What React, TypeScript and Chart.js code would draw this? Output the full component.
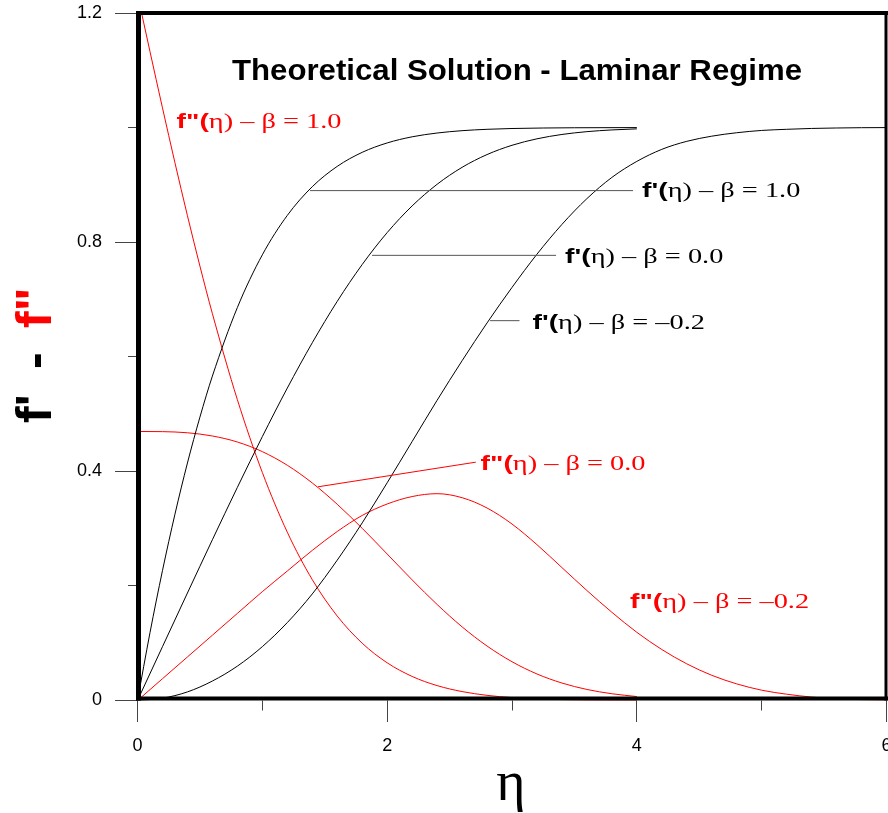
import React, { useEffect, useRef } from 'react';
import { Chart, registerables } from 'chart.js';

Chart.register(...registerables);

// Similarity coordinate eta and velocity / shear profiles of the Falkner-Skan family
// beta = 1.0 (stagnation point flow)
const etaStagnation = [0, 0.1, 0.2, 0.3, 0.4, 0.5, 0.6, 0.8, 1.0, 1.2, 1.4, 1.6, 1.8, 2.0, 2.2, 2.4, 2.6, 2.8, 3.0, 3.5, 4.0];
const fPrimeStagnation = [0, 0.1183, 0.2266, 0.3252, 0.4145, 0.4946, 0.5663, 0.6859, 0.7779, 0.8467, 0.8968, 0.9323, 0.9568, 0.9732, 0.9839, 0.9905, 0.9946, 0.997, 0.9984, 0.9997, 1.0];
const fDoublePrimeStagnation = [1.2326, 1.1328, 1.0345, 0.9386, 0.8463, 0.7583, 0.6752, 0.5251, 0.398, 0.2938, 0.211, 0.1474, 0.1, 0.0658, 0.042, 0.026, 0.0156, 0.009, 0.0051, 0.001, 0.0002];

// beta = 0.0 (flat plate)
const etaFlatPlate = [0, 0.2, 0.4, 0.6, 0.8, 1.0, 1.2, 1.4, 1.6, 1.8, 2.0, 2.2, 2.4, 2.6, 2.8, 3.0, 3.2, 3.4, 3.6, 3.8, 4.0];
const fPrimeFlatPlate = [0, 0.0939, 0.1876, 0.2806, 0.372, 0.4606, 0.5453, 0.6244, 0.6967, 0.761, 0.8167, 0.8633, 0.901, 0.9306, 0.9529, 0.9691, 0.9804, 0.988, 0.9929, 0.9959, 0.9978];
const fDoublePrimeFlatPlate = [0.4696, 0.4693, 0.4673, 0.4617, 0.4512, 0.4344, 0.4106, 0.3797, 0.3425, 0.3005, 0.2557, 0.2106, 0.1676, 0.1286, 0.0951, 0.0677, 0.0463, 0.0305, 0.0193, 0.0118, 0.0069];

// beta = -0.2 (near separation)
const etaSeparation = [0, 0.2, 0.4, 0.6, 0.8, 1.0, 1.2, 1.4, 1.6, 1.8, 2.0, 2.2, 2.4, 2.6, 2.8, 3.0, 3.2, 3.4, 3.6, 3.8, 4.0, 4.2, 4.4, 4.6, 4.8, 5.0, 5.2, 5.4, 5.6, 5.8, 6.0];
const fPrimeSeparation = [0, 0.004, 0.015, 0.034, 0.06, 0.094, 0.136, 0.186, 0.245, 0.31, 0.38, 0.452, 0.524, 0.593, 0.659, 0.721, 0.779, 0.831, 0.876, 0.913, 0.941, 0.962, 0.976, 0.985, 0.991, 0.995, 0.997, 0.9985, 0.9993, 0.9998, 1.0];
const fDoublePrimeSeparation = [0, 0.038, 0.076, 0.114, 0.152, 0.19, 0.226, 0.262, 0.295, 0.323, 0.343, 0.356, 0.361, 0.354, 0.336, 0.308, 0.272, 0.232, 0.192, 0.154, 0.119, 0.089, 0.064, 0.044, 0.029, 0.018, 0.011, 0.006, 0.003, 0.0015, 0.0005];

// Axis ranges and labelled ticks
const xRange = [0, 6];
const yRange = [0, 1.2];
const xMajorTicks = [0, 2, 4, 6];
const xMinorTicks = [1, 3, 5];
const yMajorTicks = [0, 0.4, 0.8, 1.2];
const yMinorTicks = [0.2, 0.6, 1.0];

const chartTitle = 'Theoretical Solution - Laminar Regime';

const BLACK = '#000000';
const RED = '#ff0000';
const LEADER = '#555555';
const SANS = '"Liberation Sans", Arial, sans-serif';
const SERIF = '"Liberation Serif", "Times New Roman", serif';

type Part = { text: string; bold: boolean };
type CurveLabel = { eta: number; value: number; color: string; prefix: string; rest: string; leader?: [number, number, number, number] };

// Curve labels: anchor (left / baseline) in data units, optional leader line [eta1, v1, eta2, v2]
const curveLabels: CurveLabel[] = [
  { eta: 4.042, value: 0.879, color: BLACK, prefix: "f'(", rest: 'η) – β = 1.0', leader: [1.382, 0.89, 3.97, 0.89] },
  { eta: 3.425, value: 0.7635, color: BLACK, prefix: "f'(", rest: 'η) – β = 0.0', leader: [1.879, 0.777, 3.353, 0.777] },
  { eta: 3.164, value: 0.6481, color: BLACK, prefix: "f'(", rest: 'η) – β = –0.2', leader: [2.824, 0.663, 3.06, 0.663] },
  { eta: 2.748, value: 0.4015, color: RED, prefix: 'f"(', rest: 'η) – β = 0.0', leader: [1.446, 0.373, 2.71, 0.416] },
  { eta: 3.945, value: 0.1615, color: RED, prefix: 'f"(', rest: 'η) – β = –0.2' },
  { eta: 0.3125, value: 1.0, color: RED, prefix: 'f"(', rest: 'η) – β = 1.0' },
];

const toPoints = (xs: number[], ys: number[]) => xs.map((x, i) => ({ x, y: ys[i] }));

// Mixed bold-sans / serif label, stretched horizontally like the plotting package's text
function drawParts(ctx: CanvasRenderingContext2D, x: number, y: number, parts: Part[], size: number, color: string, stretch: number) {
  ctx.save();
  ctx.translate(x, y);
  ctx.scale(stretch, 1);
  let cx = 0;
  ctx.fillStyle = color;
  ctx.textAlign = 'left';
  ctx.textBaseline = 'alphabetic';
  for (const p of parts) {
    ctx.font = p.bold ? `bold ${size}px ${SANS}` : `${size}px ${SERIF}`;
    ctx.fillText(p.text, cx, 0);
    cx += ctx.measureText(p.text).width;
  }
  ctx.restore();
}

const decorPlugin = {
  id: 'decor',
  afterDraw(chart: any) {
    const { ctx, chartArea } = chart;
    const xs = chart.scales.x;
    const ys = chart.scales.y;
    const { left, right, top, bottom } = chartArea;
    ctx.save();

    // tick marks
    ctx.fillStyle = '#444444';
    for (const v of xMajorTicks) {
      const px = Math.floor(xs.getPixelForValue(v));
      ctx.fillRect(px, bottom, 1, 21.5);
    }
    for (const v of xMinorTicks) {
      const px = Math.floor(xs.getPixelForValue(v));
      ctx.fillRect(px, bottom, 1, 10);
    }
    for (const v of yMajorTicks) {
      const py = Math.floor(ys.getPixelForValue(v));
      ctx.fillRect(left - 22.5, py, 22.5, 1);
    }
    for (const v of yMinorTicks) {
      const py = Math.floor(ys.getPixelForValue(v));
      ctx.fillRect(left - 9.5, py, 9.5, 1);
    }

    // heavy frame
    ctx.fillStyle = BLACK;
    ctx.fillRect(left - 1.5, top - 2, 5, bottom - top + 2);
    ctx.fillRect(left - 1.5, bottom - 4, right - left + 3, 4);
    ctx.fillRect(left - 1.5, top - 2, right - left + 3, 4);
    ctx.fillRect(right - 2, top - 2, 3, bottom - top + 2);

    // leader lines and curve labels
    for (const l of curveLabels) {
      if (l.leader) {
        const [e1, v1, e2, v2] = l.leader;
        ctx.strokeStyle = l.color === RED ? RED : LEADER;
        ctx.lineWidth = 1;
        ctx.beginPath();
        ctx.moveTo(xs.getPixelForValue(e1), ys.getPixelForValue(v1));
        ctx.lineTo(xs.getPixelForValue(e2), ys.getPixelForValue(v2));
        ctx.stroke();
      }
      drawParts(
        ctx,
        xs.getPixelForValue(l.eta),
        ys.getPixelForValue(l.value),
        [{ text: l.prefix, bold: true }, { text: l.rest, bold: false }],
        21,
        l.color,
        1.35
      );
    }

    // title
    ctx.save();
    ctx.fillStyle = BLACK;
    ctx.font = `bold 29px ${SANS}`;
    ctx.textAlign = 'left';
    ctx.textBaseline = 'alphabetic';
    const tw = ctx.measureText(chartTitle).width;
    ctx.translate(232, 80);
    ctx.scale(570 / tw, 1);
    ctx.fillText(chartTitle, 0, 0);
    ctx.restore();

    // x axis title
    ctx.fillStyle = BLACK;
    ctx.font = `56px ${SERIF}`;
    ctx.textAlign = 'center';
    ctx.textBaseline = 'alphabetic';
    ctx.fillText('η', (left + right) / 2 - 1, 800);

    // y axis title, drawn bottom-to-top
    ctx.translate(51, 0);
    ctx.rotate(-Math.PI / 2);
    ctx.font = `bold 50px ${SANS}`;
    ctx.textAlign = 'left';
    ctx.fillStyle = BLACK;
    ctx.fillText("f'", -423, 0);
    ctx.fillText('-', -369, 0);
    ctx.fillStyle = RED;
    ctx.fillText('f"', -328, 0);

    ctx.restore();
  },
};

export default function App() {
  const canvasRef = useRef<HTMLCanvasElement | null>(null);

  useEffect(() => {
    const canvas = canvasRef.current;
    if (!canvas) return;
    const line = (data: { x: number; y: number }[], color: string) => ({
      data,
      borderColor: color,
      borderWidth: 1,
      pointRadius: 0,
      fill: false,
      cubicInterpolationMode: 'monotone' as const,
    });

    const chart = new Chart(canvas, {
      type: 'line',
      data: {
        datasets: [
          line(toPoints(etaStagnation, fPrimeStagnation), BLACK),
          line(toPoints(etaFlatPlate, fPrimeFlatPlate), BLACK),
          line(toPoints(etaSeparation, fPrimeSeparation), BLACK),
          line(toPoints(etaStagnation, fDoublePrimeStagnation), RED),
          line(toPoints(etaFlatPlate, fDoublePrimeFlatPlate), RED),
          line(toPoints(etaSeparation, fDoublePrimeSeparation), RED),
        ],
      },
      options: {
        animation: false,
        responsive: false,
        devicePixelRatio: 1,
        events: [],
        layout: { padding: { left: 0, right: 73.5, top: 13, bottom: 0 } },
        plugins: { legend: { display: false }, tooltip: { enabled: false }, title: { display: false } },
        scales: {
          x: {
            type: 'linear',
            min: xRange[0],
            max: xRange[1],
            afterFit: (s: any) => {
              s.height = 112.5;
              s.paddingLeft = 0;
              s.paddingRight = 0;
            },
            grid: { display: false, drawTicks: false },
            border: { display: false },
            ticks: {
              stepSize: 1,
              autoSkip: false,
              maxRotation: 0,
              padding: 35,
              color: BLACK,
              font: { family: SANS, size: 18 },
              callback: (v: any) => (xMajorTicks.includes(Number(v)) ? String(v) : ''),
            },
          },
          y: {
            type: 'linear',
            min: yRange[0],
            max: yRange[1],
            afterFit: (s: any) => {
              s.width = 137.5;
              s.paddingTop = 0;
              s.paddingBottom = 0;
            },
            grid: { display: false, drawTicks: false },
            border: { display: false },
            ticks: {
              stepSize: 0.2,
              autoSkip: false,
              padding: 35.5,
              color: BLACK,
              font: { family: SANS, size: 18 },
              callback: (v: any) => {
                const n = Number(v);
                const hit = yMajorTicks.find((t) => Math.abs(t - n) < 1e-6);
                return hit === undefined ? '' : hit === 0 ? '0' : hit.toFixed(1);
              },
            },
          },
        },
      },
      plugins: [decorPlugin],
    });
    return () => chart.destroy();
  }, []);

  return (
    <div style={{ position: 'fixed', left: 0, top: 0, width: 888, height: 813, overflow: 'hidden', background: '#ffffff' }}>
      <canvas ref={canvasRef} width={960} height={813} style={{ width: 960, height: 813, display: 'block' }} />
    </div>
  );
}
